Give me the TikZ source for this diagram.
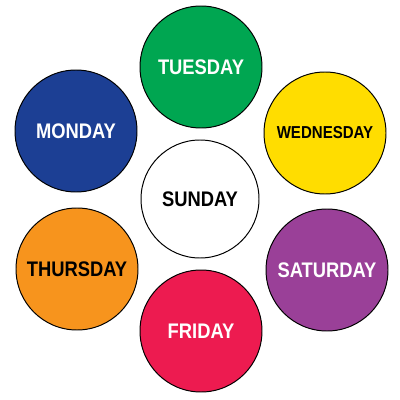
\documentclass[tikz,border=0pt]{standalone}
\usepackage{fontspec}
\setmainfont[FakeStretch=0.87]{Liberation Sans}
\usepackage{tikz}
\definecolor{daygreen}{RGB}{0,166,81}
\definecolor{dayblue}{RGB}{28,63,148}
\definecolor{dayyellow}{RGB}{255,221,0}
\definecolor{dayorange}{RGB}{247,148,29}
\definecolor{daypurple}{RGB}{154,64,152}
\definecolor{dayred}{RGB}{237,27,80}
\tikzset{
  % Day disc: thin black outline, bold label
  daydisc/.style={draw=black, circle, line width=0.7pt, minimum size=122*0.025cm,
                  inner sep=0pt, font=\bfseries\fontsize{15}{16}\selectfont},
  daydisc-light/.style={daydisc, text=white},
  daydisc-dark/.style={daydisc, text=black},
  % Centre disc
  hubdisc/.style={daydisc-dark, fill=white, minimum size=118*0.025cm}
}
\begin{document}
\begin{tikzpicture}[x=0.025cm, y=-0.025cm]
\useasboundingbox (0,0) rectangle (400,400);

% ============== CENTRE ==============
\node[hubdisc] (sunday) at (200,199) {SUNDAY};

% ============== RING OF DAYS ==============
\node[daydisc-light, fill=daygreen] (tuesday) at (201,67) {TUESDAY};
\node[daydisc-dark, fill=dayyellow, font=\bfseries\fontsize{12.3}{13}\selectfont] (wednesday) at (325,133) {WEDNESDAY};
\node[daydisc-light, fill=daypurple] (saturday) at (327,270) {SATURDAY};
\node[daydisc-light, fill=dayred] (friday) at (201,331) {FRIDAY};
\node[daydisc-dark, fill=dayorange] (thursday) at (77,269) {THURSDAY};
\node[daydisc-light, fill=dayblue] (monday) at (76,131) {MONDAY};

\end{tikzpicture}
\end{document}
